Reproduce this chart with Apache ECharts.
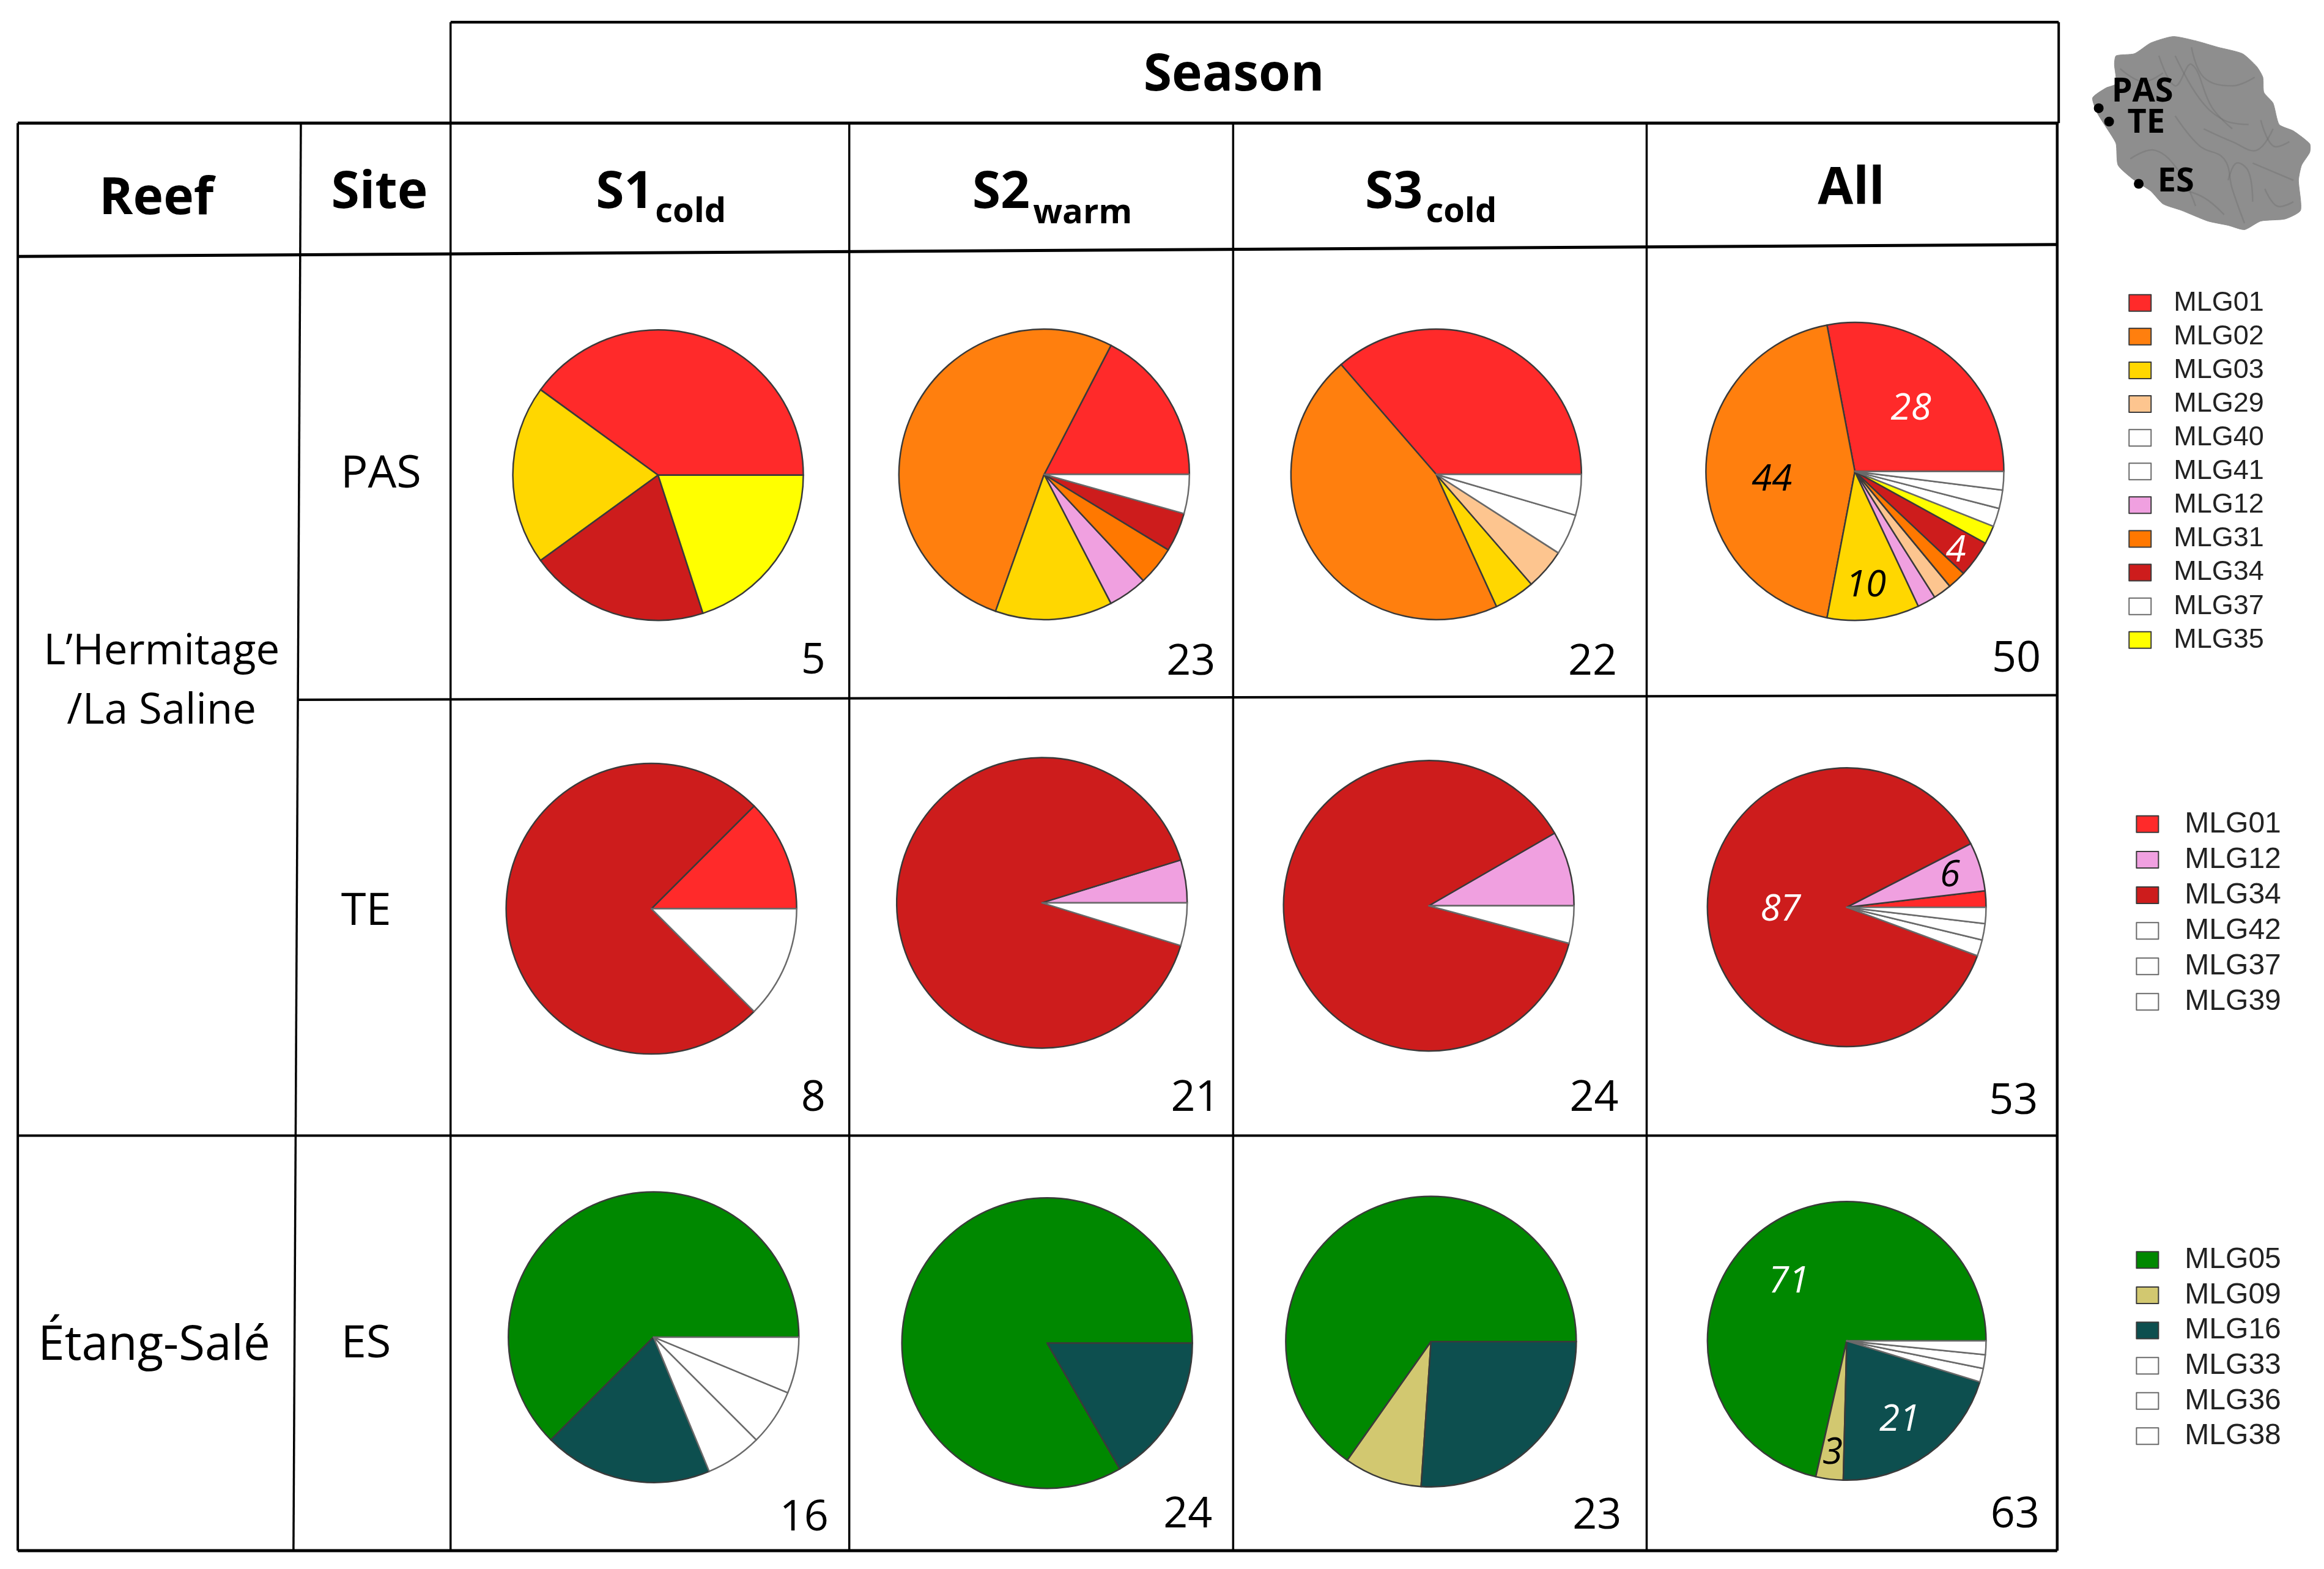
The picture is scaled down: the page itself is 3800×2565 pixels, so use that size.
<!DOCTYPE html>
<html><head><meta charset="utf-8">
<style>html,body{margin:0;padding:0;background:#fff}#c{width:3800px;height:2565px}</style>
<script src="https://cdn.jsdelivr.net/npm/echarts@6/dist/echarts.min.js"></script>
</head><body><div id="c"></div>
<script>
// ---- data ----
const seasons = ['S1', 'S2', 'S3', 'All'];
const sites = ['PAS', 'TE', 'ES'];
const sampleCounts = [[5, 23, 22, 50], [8, 21, 24, 53], [16, 24, 23, 63]];

const pasS1Names = ['MLG01', 'MLG03', 'MLG34', 'MLG35'];
const pasS1Values = [2, 1, 1, 1];
const pasS2Names = ['MLG01', 'MLG02', 'MLG03', 'MLG12', 'MLG31', 'MLG34', 'MLG40'];
const pasS2Values = [4, 12, 3, 1, 1, 1, 1];
const pasS3Names = ['MLG01', 'MLG02', 'MLG03', 'MLG29', 'MLG41', 'MLG37'];
const pasS3Values = [8, 10, 1, 1, 1, 1];
const pasAllNames = ['MLG01', 'MLG02', 'MLG03', 'MLG12', 'MLG29', 'MLG31', 'MLG34', 'MLG35', 'MLG37', 'MLG41', 'MLG40'];
const pasAllValues = [14, 22, 5, 1, 1, 1, 2, 1, 1, 1, 1];

const teS1Names = ['MLG01', 'MLG34', 'MLG42'];
const teS1Values = [1, 6, 1];
const teS2Names = ['MLG12', 'MLG34', 'MLG42'];
const teS2Values = [1, 19, 1];
const teS3Names = ['MLG12', 'MLG34', 'MLG42'];
const teS3Values = [2, 21, 1];
const teAllNames = ['MLG01', 'MLG12', 'MLG34', 'MLG39', 'MLG37', 'MLG42'];
const teAllValues = [1, 3, 46, 1, 1, 1];

const esS1Names = ['MLG05', 'MLG16', 'MLG38', 'MLG36', 'MLG33'];
const esS1Values = [10, 3, 1, 1, 1];
const esS2Names = ['MLG05', 'MLG16'];
const esS2Values = [20, 4];
const esS3Names = ['MLG05', 'MLG09', 'MLG16'];
const esS3Values = [15, 2, 6];
const esAllNames = ['MLG05', 'MLG09', 'MLG16', 'MLG38', 'MLG36', 'MLG33'];
const esAllValues = [45, 2, 13, 1, 1, 1];

const legendPas = ['MLG01', 'MLG02', 'MLG03', 'MLG29', 'MLG40', 'MLG41', 'MLG12', 'MLG31', 'MLG34', 'MLG37', 'MLG35'];
const legendTe = ['MLG01', 'MLG12', 'MLG34', 'MLG42', 'MLG37', 'MLG39'];
const legendEs = ['MLG05', 'MLG09', 'MLG16', 'MLG33', 'MLG36', 'MLG38'];

const colours = {
  MLG01: '#FF2A2A', MLG02: '#FF7F0E', MLG03: '#FFD700', MLG29: '#FDC58F', MLG40: '#FFFFFF', MLG41: '#FFFFFF',
  MLG12: '#F0A0E0', MLG31: '#FF7800', MLG34: '#CD1C1C', MLG37: '#FFFFFF', MLG35: '#FFFF00', MLG42: '#FFFFFF',
  MLG39: '#FFFFFF', MLG05: '#008800', MLG09: '#D2C870', MLG16: '#0D4F4F', MLG33: '#FFFFFF', MLG36: '#FFFFFF', MLG38: '#FFFFFF'
};
const whiteLabel = ['MLG01', 'MLG34', 'MLG05', 'MLG16'];

// ---- layout (in units of the 1568-wide sketch, scaled by k) ----
const k = 3800 / 1568;
const pieLayout = [
  [[444, 320.5, 98], [704.5, 320, 98], [969, 320, 98], [1251.5, 318, 100.5]],
  [[439.5, 613, 98], [703, 609, 98], [964, 611, 98], [1246, 612, 94]],
  [[441, 902, 98], [706.5, 906, 98], [965.5, 905, 98], [1246, 904.5, 94]]
];
const pieDefs = [
  [[pasS1Names, pasS1Values], [pasS2Names, pasS2Values], [pasS3Names, pasS3Values], [pasAllNames, pasAllValues]],
  [[teS1Names, teS1Values], [teS2Names, teS2Values], [teS3Names, teS3Values], [teAllNames, teAllValues]],
  [[esS1Names, esS1Values], [esS2Names, esS2Values], [esS3Names, esS3Values], [esAllNames, esAllValues]]
];
// label nudges for the "All" pies, name -> [dx, dy]
const labelNudge = [
  { MLG01: [5, -2.5], MLG02: [-4.5, 6], MLG03: [1, 26], MLG34: [26.5, 23.6] },
  { MLG34: [3.5, -1], MLG12: [23.5, -7], },
  { MLG05: [-9, -2], MLG09: [-3.5, 28], MLG16: [7.5, 14.3] }
];
const countPos = [
  [[557, 444], [820, 445], [1091, 445], [1377, 443]],
  [[557, 739], [823, 739], [1092, 739], [1375, 741]],
  [[559, 1022], [818, 1020], [1094, 1021], [1376, 1020]]
];

const series = [];
pieDefs.forEach((row, r) => row.forEach(([names, values], c) => {
  const isAll = c === 3;
  const nudge = labelNudge[r];
  series.push({
    type: 'pie',
    name: sites[r] + ' ' + seasons[c],
    center: [pieLayout[r][c][0] * k, pieLayout[r][c][1] * k],
    radius: [0, pieLayout[r][c][2] * k],
    startAngle: 0,
    clockwise: false,
    silent: true,
    avoidLabelOverlap: false,
    animation: false,
    itemStyle: { borderWidth: 2.5, borderColor: '#3a3a3a' },
    emphasis: { disabled: true },
    labelLine: { show: false },
    label: { show: false },
    labelLayout: isAll ? (p => {
      const n = nudge[names[p.dataIndex]];
      return n ? { dx: n[0] * k, dy: n[1] * k } : {};
    }) : undefined,
    data: names.map((n, i) => {
      const isWhite = colours[n] === '#FFFFFF';
      const d = {
        name: n, value: values[i],
        itemStyle: { color: colours[n], borderColor: isWhite ? '#6a6a6a' : '#3a3a3a' }
      };
      if (isAll && nudge[n]) {
        d.label = {
          show: true, position: 'inside', fontFamily: 'Open Sans', fontStyle: 'italic', fontSize: 60,
          color: whiteLabel.includes(n) ? '#fff' : '#000',
          formatter: p => String(Math.round(p.percent))
        };
      }
      return d;
    })
  });
}));

// ---- graphic helpers ----
const P = (a) => a * k;
const line = (x1, y1, x2, y2, w) => ({
  type: 'line', silent: true, z: 1,
  shape: { x1: P(x1), y1: P(y1), x2: P(x2), y2: P(y2) },
  style: { stroke: '#000', lineWidth: w || 4 }
});
const text = (s, x, y, size, opt) => ({
  type: 'text', silent: true, z: 5, x: P(x), y: P(y + 2),
  style: Object.assign({
    text: s, fontFamily: 'Open Sans', fontSize: size, fill: '#000',
    textAlign: 'center', textVerticalAlign: 'middle'
  }, opt || {})
});
const B = { fontWeight: 'bold' };

const graphics = [
  // season box
  line(304, 15, 1389, 15, 4.5), line(304, 15, 304, 83, 3.5), line(1389, 15, 1389, 83, 4),
  // header
  line(12, 83, 1389, 83, 5),
  line(12, 173, 1388, 165, 5),
  line(12, 83, 12, 1046, 4),
  line(203, 83, 198, 1046, 3.5),
  line(304, 83, 304, 1046, 3.5),
  line(573, 83, 573, 1046, 3.5),
  line(832, 83, 832, 1046, 3.5),
  line(1111, 83, 1111, 1046, 3.5),
  line(1388, 83, 1388, 1046, 4.5),
  line(201, 472, 1388, 469, 4),
  line(12, 766, 1388, 766, 4),
  line(12, 1046, 1388, 1046, 5),
  // header text
  text('Season', 832.5, 49, 84, B),
  text('Reef', 105.5, 132.5, 84, B),
  text('Site', 256, 128.5, 84, B),
  text('All', 1249, 125.5, 84, B),
  text('S1', 402, 128.5, 84, Object.assign({ textAlign: 'left' }, B)),
  text('cold', 442, 141, 56, Object.assign({ textAlign: 'left' }, B)),
  text('S2', 656, 128.5, 84, Object.assign({ textAlign: 'left' }, B)),
  text('warm', 697, 142, 56, Object.assign({ textAlign: 'left' }, B)),
  text('S3', 921, 128.5, 84, Object.assign({ textAlign: 'left' }, B)),
  text('cold', 962, 141, 56, Object.assign({ textAlign: 'left' }, B)),
  // row labels
  text('L\u2019Hermitage', 109, 438, 69),
  text('/La Saline', 109, 478, 69),
  text('\u00C9tang-Sal\u00E9', 104, 906, 78),
  text(sites[0], 257, 318, 74),
  text(sites[1], 247, 613, 74),
  text(sites[2], 247, 905, 74)
];
sampleCounts.forEach((row, r) => row.forEach((n, c) => {
  graphics.push(text(String(n), countPos[r][c][0], countPos[r][c][1], 70, { textAlign: 'right' }));
}));

// island inset (illustration, not data)
const mx = X => 3350 + X / 3, my = Y => Y / 1.425;
const islandOutline = [[215,228],[280,205],[330,195],[322,150],[330,130],[420,125],[500,100],[610,85],[720,95],[830,110],[950,125],[1020,155],[1050,180],[1055,215],[1100,240],[1130,290],[1200,305],[1280,335],[1280,355],[1240,385],[1225,420],[1235,490],[1160,510],[1040,515],[960,535],[880,525],[780,515],[650,490],[560,475],[500,445],[420,420],[340,385],[330,335],[300,310],[240,265]];
const ridges = [
  [[540,130],[620,200],[700,150],[800,250],[900,300]],
  [[700,110],[760,180],[900,200],[1010,180]],
  [[620,270],[740,340],[860,370],[900,440],[960,520]],
  [[880,420],[920,380],[980,400],[1000,470]],
  [[1040,280],[1100,340],[1180,330]],
  [[400,370],[520,350],[640,400],[720,480]],
  [[350,160],[460,190],[560,170]],
  [[620,130],[740,230],[860,280],[980,290]],
  [[1000,380],[1100,400],[1200,420]],
  [[640,440],[760,460],[860,500]],
  [[1060,440],[1120,480],[1200,470]],
  [[760,300],[900,330],[1020,350],[1100,300]]
];
graphics.push({
  type: 'polygon', silent: true, z: 2,
  shape: { points: islandOutline.map(p => [mx(p[0]), my(p[1])]), smooth: 0.2 },
  style: { fill: '#8E8E8E', stroke: '#8E8E8E', lineWidth: 1 }
});
ridges.forEach(rd => graphics.push({
  type: 'polyline', silent: true, z: 3,
  shape: { points: rd.map(p => [mx(p[0]), my(p[1])]), smooth: 0.4 },
  style: { stroke: '#6E6E6E', lineWidth: 2.5, fill: null, opacity: 0.4 }
}));
[[1416, 73], [1423, 82], [1443, 124]].forEach(d => graphics.push({
  type: 'circle', silent: true, z: 4, shape: { cx: P(d[0]), cy: P(d[1]), r: 8 }, style: { fill: '#000' }
}));
graphics.push(text('PAS', 1445.5, 60, 54, B), text('TE', 1448, 81, 54, B), text('ES', 1468, 121, 54, B));

const legendBase = (names, left, top, gap, size, pad) => ({
  orient: 'vertical', left: left * k, top: top * k, data: names, icon: 'rect',
  itemWidth: 36, itemHeight: 27, itemGap: gap, selectedMode: false,
  textStyle: { fontFamily: 'Liberation Sans', fontSize: size, color: '#222', lineHeight: 36, padding: [0, 0, 0, pad] }
});

echarts.init(document.getElementById('c'), null, { renderer: 'canvas' }).setOption({
  backgroundColor: '#fff',
  animation: false,
  tooltip: { show: false },
  legend: [
    legendBase(legendPas, 1434, 193, 10.1, 45, 32),
    legendBase(legendTe, 1439, 544, 10.1, 48, 38),
    legendBase(legendEs, 1439, 838, 9.6, 48, 38)
  ],
  graphic: { elements: graphics },
  series
});
</script></body></html>
